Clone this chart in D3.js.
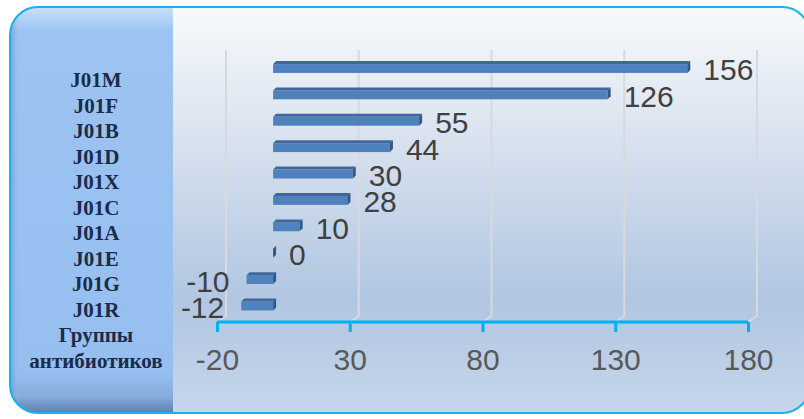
<!DOCTYPE html>
<html><head><meta charset="utf-8">
<script src="https://cdn.jsdelivr.net/npm/d3@7"></script>
<style>html,body{margin:0;padding:0;background:#fff;}svg{display:block;}</style>
</head><body>
<script>
const categories = ["J01M","J01F","J01B","J01D","J01X","J01C","J01A","J01E","J01G","J01R"];
const values = [156,126,55,44,30,28,10,0,-10,-12];
const tickValues = [-20,30,80,130,180];
const axisTitle = ["Группы","антибиотиков"];

const W = 804, H = 419;
const svg = d3.select("body").append("svg").attr("width", W).attr("height", H);
const defs = svg.append("defs");

const bgGrad = defs.append("linearGradient").attr("id","bgGrad").attr("x1",0).attr("y1",0).attr("x2",0).attr("y2",1);
[[0,"#f8fafc"],[0.3,"#dbe4f0"],[0.72,"#b1c6e1"],[1,"#c6d6eb"]].forEach(s=>bgGrad.append("stop").attr("offset",s[0]).attr("stop-color",s[1]));
const lpGrad = defs.append("linearGradient").attr("id","lpGrad").attr("x1",0).attr("y1",0).attr("x2",0).attr("y2",1);
[[0,"#c9e0fb"],[0.06,"#9cc3f1"],[0.9,"#96bff0"],[0.96,"#85acdb"],[1,"#5d7fae"]].forEach(s=>lpGrad.append("stop").attr("offset",s[0]).attr("stop-color",s[1]));
const lpSide = defs.append("linearGradient").attr("id","lpSide").attr("x1",0).attr("y1",0).attr("x2",1).attr("y2",0);
[[0,"#6e93c4",0.8],[0.06,"#96bff0",0]].forEach(s=>lpSide.append("stop").attr("offset",s[0]).attr("stop-color",s[1]).attr("stop-opacity",s[2]));

const box = {x:10, y:7, w:800, h:406, r:28};
defs.append("clipPath").attr("id","boxClip").append("rect")
  .attr("x",box.x).attr("y",box.y).attr("width",box.w).attr("height",box.h).attr("rx",box.r);

const g = svg.append("g").attr("clip-path","url(#boxClip)");
g.append("rect").attr("x",box.x).attr("y",box.y).attr("width",box.w).attr("height",box.h).attr("fill","url(#bgGrad)");
g.append("rect").attr("x",box.x).attr("y",box.y).attr("width",163).attr("height",box.h).attr("fill","url(#lpGrad)");
g.append("rect").attr("x",box.x).attr("y",box.y).attr("width",163).attr("height",box.h).attr("fill","url(#lpSide)");

svg.append("rect").attr("x",box.x).attr("y",box.y).attr("width",box.w).attr("height",box.h).attr("rx",box.r)
  .attr("fill","none").attr("stroke","#19b2ea").attr("stroke-width",2);

// scales
const x = d3.scaleLinear().domain([-20,180]).range([217,748]);
const y = d3.scaleBand().domain(categories).range([53.8,317.7]).paddingInner(0.55).paddingOuter(0.275);
const labelY = d3.scalePoint().domain(d3.range(categories.length + axisTitle.length)).range([87,368]);

const depthX = 9, depthY = 6, axisY = 322, gridTop = 50;

// gridlines (back wall)
svg.append("g").selectAll("path").data(tickValues).join("path")
  .attr("d", t => `M${x(t)+depthX},${gridTop} L${x(t)+depthX},${axisY-depthY} L${x(t)},${axisY}`)
  .attr("fill","none").attr("stroke","#d6d9de").attr("stroke-width",2);

// bars
const bd = 3;
const bars = svg.append("g");
categories.forEach((c,i) => {
  const v = values[i];
  const x0 = x(Math.min(0,v)) + 3, x1 = x(Math.max(0,v)) + 3;
  const y0 = y(c), h = y.bandwidth();
  const bg = bars.append("g");
  bg.append("rect").attr("x",x0).attr("y",y0+bd).attr("width",Math.max(0,x1-x0)).attr("height",h-bd).attr("fill","#4f81bd");
  bg.append("path").attr("d",`M${x0},${y0+bd} L${x0+bd},${y0} L${x1+bd},${y0} L${x1},${y0+bd} Z`).attr("fill","#3f679a");
  bg.append("path").attr("d",`M${x1},${y0+bd} L${x1+bd},${y0} L${x1+bd},${y0+h-bd} L${x1},${y0+h} Z`).attr("fill","#2f5789");
});

// value labels
svg.append("g").selectAll("text").data(categories).join("text")
  .attr("x",(c,i)=> values[i] < 0 ? x(values[i]) - 14 : x(values[i]) + 19)
  .attr("y",c => y(c) + y.bandwidth()/2 + 13.5)
  .attr("text-anchor",(c,i)=> values[i] < 0 ? "end" : "start")
  .attr("font-family","'Liberation Sans', Arial, sans-serif").attr("font-size",30).attr("fill","#404040")
  .text((c,i)=>String(values[i]));

// axis
const ax = svg.append("g").attr("transform",`translate(0,${axisY})`)
  .call(d3.axisBottom(x).tickValues(tickValues).tickSize(10).tickPadding(12).tickFormat(d => String(d)));
ax.select(".domain").attr("stroke","#00b0f0").attr("stroke-width",3).attr("d",`M${x(-20)},0H${x(180)}`);
ax.selectAll(".tick line").attr("stroke","#00b0f0").attr("stroke-width",3);
ax.selectAll(".tick text").attr("font-family","'Liberation Sans', Arial, sans-serif").attr("font-size",30).attr("fill","#595959")
  .attr("dy",null).attr("y",48);

// category labels in left panel
const leftLabels = categories.concat(axisTitle);
svg.append("g").selectAll("text").data(leftLabels).join("text")
  .attr("x",96).attr("y",(d,i)=>labelY(i))
  .attr("text-anchor","middle")
  .attr("font-family","'Liberation Serif', 'Times New Roman', serif").attr("font-weight","bold").attr("font-size",21)
  .attr("fill","#1b2c4a").text(d=>d);
</script>
</body></html>
